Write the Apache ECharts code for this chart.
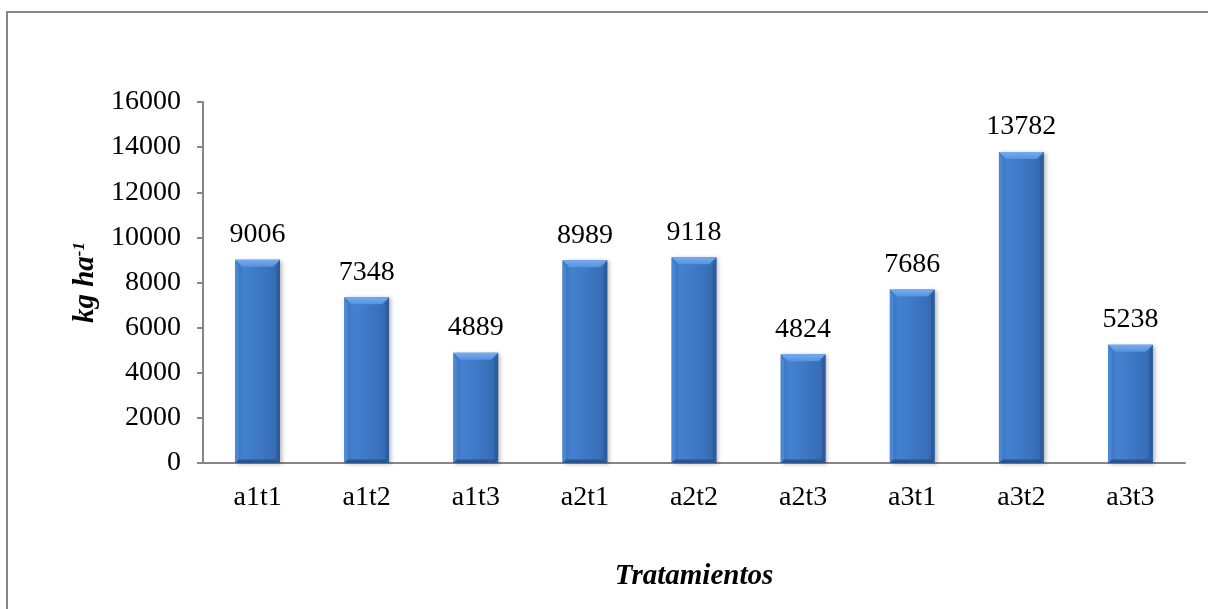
<!DOCTYPE html>
<html>
<head>
<meta charset="utf-8">
<script src="https://cdn.jsdelivr.net/npm/echarts@6/dist/echarts.min.js"></script>
<style>
  html, body { margin: 0; padding: 0; background: #ffffff; }
  #chart { width: 1208px; height: 609px; }
</style>
</head>
<body>
<div id="chart"></div>
<script>
// Treatments and yields (kg ha-1)
const categories = ['a1t1', 'a1t2', 'a1t3', 'a2t1', 'a2t2', 'a2t3', 'a3t1', 'a3t2', 'a3t3'];
const yields = [9006, 7348, 4889, 8989, 9118, 4824, 7686, 13782, 5238];
const yMin = 0;
const yMax = 16000;
const yStep = 2000;

const serif = '"Liberation Serif", "Times New Roman", serif';
const axisGrey = '#868686';
const labelSize = 28;
const nameSize = 29;

// Bevelled column: body with a horizontal gradient plus four edge facets
function renderBevelBar(params, api) {
  const idx = api.value(0);
  const val = api.value(1);
  const top = api.coord([idx, val]);
  const base = api.coord([idx, 0]);
  const w = api.size([1, 0])[0] * 0.41;
  const x0 = top[0] - w / 2, x1 = top[0] + w / 2;
  const y0 = top[1], y1 = base[1];
  const b = 7;
  return {
    type: 'group',
    children: [
      {
        type: 'rect',
        shape: { x: x0, y: y0, width: w, height: y1 - y0 },
        style: {
          fill: new echarts.graphic.LinearGradient(0, 0, 1, 0, [
            { offset: 0, color: '#3a70b9' },
            { offset: 0.2, color: '#4381cf' },
            { offset: 0.55, color: '#3d78c5' },
            { offset: 1, color: '#3468ae' }
          ]),
          shadowColor: 'rgba(0,0,0,0.28)',
          shadowBlur: 4,
          shadowOffsetX: 2,
          shadowOffsetY: 1
        }
      },
      {
        type: 'polygon',
        shape: { points: [[x0, y0], [x1, y0], [x1 - b, y0 + b], [x0 + b, y0 + b]] },
        style: {
          fill: new echarts.graphic.LinearGradient(0, 0, 0, 1, [
            { offset: 0, color: '#74acf0' },
            { offset: 1, color: '#5692de' }
          ])
        }
      },
      {
        type: 'polygon',
        shape: { points: [[x0, y0], [x0 + b / 2, y0 + b], [x0 + b / 2, y1 - b / 2], [x0, y1]] },
        style: { fill: '#4a88d6' }
      },
      {
        type: 'polygon',
        shape: { points: [[x1, y0], [x1, y1], [x1 - b / 2, y1 - b / 2], [x1 - b / 2, y0 + b]] },
        style: { fill: '#2c5c9e' }
      },
      {
        type: 'polygon',
        shape: { points: [[x0, y1], [x0 + b / 2, y1 - b / 2], [x1 - b / 2, y1 - b / 2], [x1, y1]] },
        style: { fill: '#2b5590' }
      },
      {
        type: 'text',
        style: {
          x: top[0],
          y: y0 - 11,
          text: String(val),
          align: 'center',
          verticalAlign: 'bottom',
          font: labelSize + 'px ' + serif,
          fill: '#000000'
        }
      }
    ]
  };
}

const chart = echarts.init(document.getElementById('chart'), null, { renderer: 'canvas' });

chart.setOption({
  backgroundColor: '#ffffff',
  animation: false,
  graphic: [
    {
      type: 'rect',
      shape: { x: 7, y: 12, width: 1300, height: 700 },
      style: { fill: 'none', stroke: axisGrey, lineWidth: 2 },
      silent: true
    }
  ],
  grid: { left: 203, right: 23, top: 102, bottom: 146 },
  xAxis: {
    type: 'category',
    data: categories,
    name: 'Tratamientos',
    nameLocation: 'middle',
    nameGap: 99,
    nameTextStyle: {
      fontFamily: serif, fontSize: nameSize, fontWeight: 'bold', fontStyle: 'italic', color: '#000'
    },
    axisLine: { show: true, lineStyle: { color: axisGrey, width: 2 } },
    axisTick: { show: false },
    axisLabel: { fontFamily: serif, fontSize: labelSize, color: '#000', margin: 21 },
    splitLine: { show: false }
  },
  yAxis: {
    type: 'value',
    min: yMin,
    max: yMax,
    interval: yStep,
    name: '{a|kg ha}{s|-1}',
    nameLocation: 'middle',
    nameRotate: 90,
    nameGap: 98,
    nameTextStyle: {
      rich: {
        a: { fontFamily: serif, fontSize: nameSize, fontWeight: 'bold', fontStyle: 'italic', color: '#000' },
        s: { fontFamily: serif, fontSize: 17, fontWeight: 'bold', fontStyle: 'italic', color: '#000', verticalAlign: 'top', padding: [0, 0, 9, 0] }
      }
    },
    axisLine: { show: true, lineStyle: { color: axisGrey, width: 2 } },
    axisTick: { show: true, length: 6, lineStyle: { color: axisGrey, width: 2 } },
    axisLabel: {
      fontFamily: serif, fontSize: labelSize, color: '#000', margin: 22,
      formatter: (v) => String(v)
    },
    splitLine: { show: false }
  },
  series: [
    {
      type: 'custom',
      renderItem: renderBevelBar,
      encode: { x: 0, y: 1 },
      data: yields.map((v, i) => [i, v]),
      clip: false,
      z: 3
    }
  ]
});
</script>
</body>
</html>
